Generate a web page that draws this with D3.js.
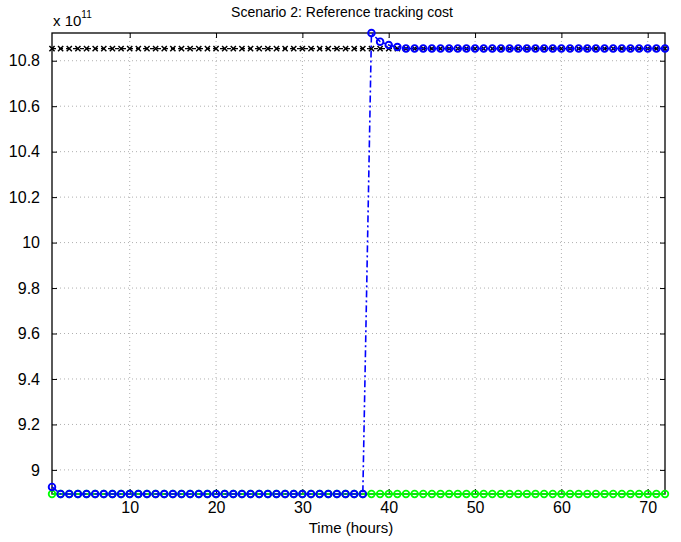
<!DOCTYPE html>
<html>
<head>
<meta charset="utf-8">
<script src="https://cdn.jsdelivr.net/npm/d3@7"></script>
<style>
  body { margin: 0; background: #fff; }
  text { font-family: "Liberation Sans", Arial, sans-serif; fill: #000; }
  .grid line { stroke: #b0b0b0; stroke-dasharray: 1,3; }
</style>
</head>
<body>
<script>
const width = 681;
const height = 542;
const margin = { top: 33, right: 16, bottom: 48, left: 52 };

// values in units of 1e11
const hours = [1,2,3,4,5,6,7,8,9,10,11,12,13,14,15,16,17,18,19,20,21,22,23,24,
  25,26,27,28,29,30,31,32,33,34,35,36,37,38,39,40,41,42,43,44,45,46,47,48,
  49,50,51,52,53,54,55,56,57,58,59,60,61,62,63,64,65,66,67,68,69,70,71,72];

const referenceCost = [10.853,10.853,10.853,10.853,10.853,10.853,10.853,10.853,10.853,10.853,10.853,10.853,
  10.853,10.853,10.853,10.853,10.853,10.853,10.853,10.853,10.853,10.853,10.853,10.853,
  10.853,10.853,10.853,10.853,10.853,10.853,10.853,10.853,10.853,10.853,10.853,10.853,
  10.853,10.853,10.853,10.853,10.853,10.853,10.853,10.853,10.853,10.853,10.853,10.853,
  10.853,10.853,10.853,10.853,10.853,10.853,10.853,10.853,10.853,10.853,10.853,10.853,
  10.853,10.853,10.853,10.853,10.853,10.853,10.853,10.853,10.853,10.853,10.853,10.853];

const greenCost = [8.894,8.894,8.894,8.894,8.894,8.894,8.894,8.894,8.894,8.894,8.894,8.894,
  8.894,8.894,8.894,8.894,8.894,8.894,8.894,8.894,8.894,8.894,8.894,8.894,
  8.894,8.894,8.894,8.894,8.894,8.894,8.894,8.894,8.894,8.894,8.894,8.894,
  8.894,8.894,8.894,8.894,8.894,8.894,8.894,8.894,8.894,8.894,8.894,8.894,
  8.894,8.894,8.894,8.894,8.894,8.894,8.894,8.894,8.894,8.894,8.894,8.894,
  8.894,8.894,8.894,8.894,8.894,8.894,8.894,8.894,8.894,8.894,8.894,8.894];

const blueCost = [8.925,8.894,8.894,8.894,8.894,8.894,8.894,8.894,8.894,8.894,8.894,8.894,
  8.894,8.894,8.894,8.894,8.894,8.894,8.894,8.894,8.894,8.894,8.894,8.894,
  8.894,8.894,8.894,8.894,8.894,8.894,8.894,8.894,8.894,8.894,8.894,8.894,
  8.894,10.922,10.884,10.869,10.860,10.854,10.854,10.854,10.854,10.854,10.854,10.854,
  10.854,10.854,10.854,10.854,10.854,10.854,10.854,10.854,10.854,10.854,10.854,10.854,
  10.854,10.854,10.854,10.854,10.854,10.854,10.854,10.854,10.854,10.854,10.854,10.854];

const xTicks = [10, 20, 30, 40, 50, 60, 70];
const yTicks = [9, 9.2, 9.4, 9.6, 9.8, 10, 10.2, 10.4, 10.6, 10.8];

const svg = d3.select("body")
    .append("svg")
    .attr("width", width)
    .attr("height", height);

const x = d3.scaleLinear().domain([1, 72]).range([margin.left, width - margin.right]);
const y = d3.scaleLinear().domain([8.894, 10.922]).range([height - margin.bottom, margin.top]);

// grid
svg.append('g')
    .attr('class', 'grid')
    .selectAll('line.gx')
    .data(xTicks)
    .enter()
    .append('line')
        .attr('x1', d => x(d)).attr('x2', d => x(d))
        .attr('y1', y.range()[1]).attr('y2', y.range()[0]);

svg.append('g')
    .attr('class', 'grid')
    .selectAll('line.gy')
    .data(yTicks)
    .enter()
    .append('line')
        .attr('y1', d => y(d)).attr('y2', d => y(d))
        .attr('x1', x.range()[0]).attr('x2', x.range()[1]);

// axes, ticks inward on all four sides
const fmt = d => d3.format('')(+d.toFixed(1));
const axisStyle = g => {
    g.select('.domain').remove();
    g.selectAll('.tick line').attr('stroke', '#000');
    g.selectAll('.tick text').style('font-size', '16px');
};

svg.append('g')
    .attr('transform', `translate(0,${height - margin.bottom})`)
    .call(d3.axisBottom(x).tickValues(xTicks).tickSizeInner(-5).tickSizeOuter(0).tickPadding(8))
    .call(axisStyle);
svg.append('g')
    .attr('transform', `translate(0,${margin.top})`)
    .call(d3.axisTop(x).tickValues(xTicks).tickSizeInner(-5).tickSizeOuter(0).tickFormat(''))
    .call(axisStyle);
svg.append('g')
    .attr('transform', `translate(${margin.left},0)`)
    .call(d3.axisLeft(y).tickValues(yTicks).tickSizeInner(-5).tickSizeOuter(0).tickPadding(12).tickFormat(fmt))
    .call(axisStyle);
svg.append('g')
    .attr('transform', `translate(${width - margin.right},0)`)
    .call(d3.axisRight(y).tickValues(yTicks).tickSizeInner(-5).tickSizeOuter(0).tickFormat(''))
    .call(axisStyle);

svg.append('rect')
    .attr('x', margin.left)
    .attr('y', margin.top)
    .attr('width', width - margin.left - margin.right)
    .attr('height', height - margin.top - margin.bottom)
    .attr('fill', 'none')
    .attr('stroke', '#000')
    .attr('stroke-width', 1.3);

const line = vals => d3.line()
    .x((d, i) => x(hours[i]))
    .y(d => y(d))(vals);

const plot = svg.append('g');

// green series
plot.append('path')
    .attr('d', line(greenCost))
    .attr('fill', 'none')
    .attr('stroke', '#00ff00')
    .attr('stroke-width', 1.4);
plot.selectAll('circle.green')
    .data(greenCost)
    .enter()
    .append('circle')
        .attr('cx', (d, i) => x(hours[i]))
        .attr('cy', d => y(d))
        .attr('r', 3.3)
        .attr('fill', 'none')
        .attr('stroke', '#00ff00')
        .attr('stroke-width', 1.8);

// reference (black dashed with x markers)
plot.append('path')
    .attr('d', line(referenceCost))
    .attr('fill', 'none')
    .attr('stroke', '#000')
    .attr('stroke-width', 1.3)
    .attr('stroke-dasharray', '4,3');
plot.selectAll('path.xmark')
    .data(referenceCost)
    .enter()
    .append('path')
        .attr('d', (d, i) => {
            const cx = x(hours[i]), cy = y(d), s = 2.6;
            return `M${cx - s},${cy - s}L${cx + s},${cy + s}M${cx - s},${cy + s}L${cx + s},${cy - s}`;
        })
        .attr('stroke', '#000')
        .attr('stroke-width', 1.5);

// blue series (dash-dot with circles)
plot.append('path')
    .attr('d', line(blueCost))
    .attr('fill', 'none')
    .attr('stroke', '#0000ff')
    .attr('stroke-width', 1.6)
    .attr('stroke-dasharray', '7,3,2,3');
plot.selectAll('circle.blue')
    .data(blueCost)
    .enter()
    .append('circle')
        .attr('cx', (d, i) => x(hours[i]))
        .attr('cy', d => y(d))
        .attr('r', 3.3)
        .attr('fill', 'none')
        .attr('stroke', '#0000ff')
        .attr('stroke-width', 1.9);

// labels
svg.append('text')
    .attr('x', 342)
    .attr('y', 17)
    .attr('text-anchor', 'middle')
    .style('font-size', '14px')
    .text('Scenario 2: Reference tracking cost');

svg.append('text')
    .attr('x', 351)
    .attr('y', 533)
    .attr('text-anchor', 'middle')
    .style('font-size', '15px')
    .text('Time (hours)');

const expo = svg.append('text')
    .attr('x', 53)
    .attr('y', 26)
    .style('font-size', '15px');
expo.append('tspan').text('x 10');
expo.append('tspan').attr('dy', -8).style('font-size', '10px').text('11');
</script>
</body>
</html>
